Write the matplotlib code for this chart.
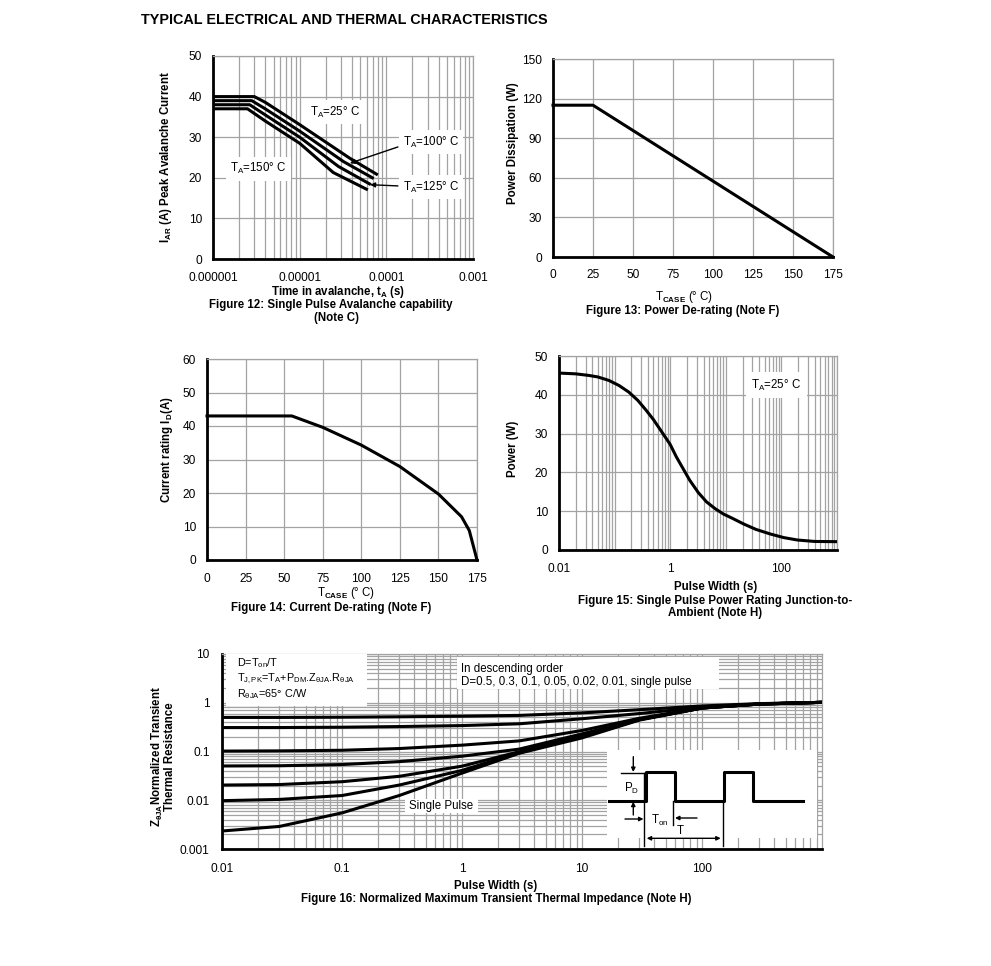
import matplotlib
matplotlib.use("Agg")
from matplotlib import pyplot as plt
from matplotlib.patches import Rectangle
from matplotlib.ticker import FixedLocator, FixedFormatter, NullFormatter
import numpy as np

plt.rcParams['font.family'] = ['Liberation Sans', 'DejaVu Sans']
plt.rcParams['mathtext.fontset'] = 'custom'
plt.rcParams['mathtext.rm'] = 'Liberation Sans'
plt.rcParams['mathtext.it'] = 'Liberation Sans:italic'
plt.rcParams['mathtext.bf'] = 'Liberation Sans:bold'

W, H = 991, 966

# ---- data ----
# Figure 12: single pulse avalanche capability
t_25 = [1e-6, 3.0e-6, 4e-6, 1e-5, 3.8e-5, 7.7e-5]
i_25 = [40, 40, 38.6, 33.1, 24.8, 20.9]
t_100 = [1e-6, 2.8e-6, 4e-6, 1e-5, 3.2e-5, 6.9e-5]
i_100 = [39, 39, 37.0, 31.5, 24.0, 20.0]
t_125 = [1e-6, 2.65e-6, 4e-6, 1e-5, 2.8e-5, 6.4e-5]
i_125 = [38, 38, 35.5, 30.0, 22.8, 18.5]
t_150 = [1e-6, 2.5e-6, 4e-6, 1e-5, 2.44e-5, 5.9e-5]
i_150 = [37, 37, 34.0, 28.5, 21.3, 17.2]

# Figure 13: power de-rating
tcase_13 = [0, 25, 175]
pdiss_13 = [115, 115, 0]

# Figure 14: current de-rating
tcase_14 = [0, 55, 75, 100, 125, 150, 165, 170, 175]
id_14 = [43, 43, 39.6, 34.3, 27.9, 19.7, 12.9, 8.8, 0]

# Figure 15: single pulse power rating
pw_15 = [0.01, 0.02, 0.034, 0.05, 0.079, 0.12, 0.18, 0.26, 0.37, 0.5, 0.74, 1.0,
         1.29, 1.7, 2.24, 3.2, 4.5, 6.5, 9.1, 13, 21, 35, 64, 110, 195, 400, 1000]
pwr_15 = [45.6, 45.4, 45.0, 44.6, 43.7, 42.4, 40.7, 38.6, 36.0, 33.6, 30.0, 27.2,
          24.0, 21.0, 18.0, 14.8, 12.4, 10.6, 9.26, 8.2, 6.7, 5.3, 4.1, 3.2, 2.57, 2.2, 2.15]

# Figure 16: normalized transient thermal impedance
pw_16 = [0.01, 0.03, 0.1, 0.3, 1, 3, 10, 30, 100, 300, 1000]
z_05 = [0.50, 0.50, 0.505, 0.515, 0.53, 0.55, 0.62, 0.72, 0.86, 0.96, 1.02]
z_03 = [0.31, 0.31, 0.315, 0.325, 0.34, 0.37, 0.47, 0.60, 0.81, 0.95, 1.02]
z_01 = [0.102, 0.103, 0.106, 0.115, 0.135, 0.165, 0.27, 0.48, 0.79, 0.94, 1.02]
z_005 = [0.0505, 0.051, 0.054, 0.062, 0.08, 0.112, 0.23, 0.46, 0.78, 0.94, 1.02]
z_002 = [0.0205, 0.021, 0.024, 0.031, 0.05, 0.099, 0.21, 0.45, 0.78, 0.94, 1.02]
z_001 = [0.0098, 0.0104, 0.0125, 0.0205, 0.041, 0.094, 0.20, 0.45, 0.78, 0.94, 1.02]
z_sp = [0.00234, 0.0029, 0.0055, 0.0125, 0.036, 0.092, 0.19, 0.44, 0.78, 0.94, 1.02]

GRID = '#a3a3a3'
TICK = 8.6
ANN = 8.3
LAB = 8.3


def fx(x):
    return x / W


def fy(y):
    return 1 - y / H


def add_ax(fig, l, t, r, b):
    return fig.add_axes([fx(l), fy(b), (r - l) / W, (b - t) / H])


def style(ax, xpad=9, ypad=8):
    ax.set_axisbelow(True)
    ax.grid(True, which='both', color=GRID, lw=0.9)
    for s in ['top', 'right']:
        ax.spines[s].set_color(GRID)
        ax.spines[s].set_linewidth(0.9)
    for s in ['left', 'bottom']:
        ax.spines[s].set_color('black')
        ax.spines[s].set_linewidth(2)
    ax.tick_params(which='both', length=0, labelsize=TICK)
    ax.tick_params(axis='x', pad=xpad)
    ax.tick_params(axis='y', pad=ypad)


def ftext(fig, x, y, s, **kw):
    kw.setdefault('ha', 'center')
    kw.setdefault('va', 'center')
    fig.text(fx(x), fy(y), s, **kw)


def box(fig, l, t, r, b):
    fig.patches.append(Rectangle((fx(l), fy(b)), (r - l) / W, (b - t) / H,
                                 transform=fig.transFigure, facecolor='white',
                                 edgecolor='none', zorder=2))


fig = plt.figure(figsize=(W / 100, H / 100), dpi=100)

ftext(fig, 141, 20, 'TYPICAL ELECTRICAL AND THERMAL CHARACTERISTICS',
      ha='left', fontsize=10.4, fontweight='bold')

# ---------------- Figure 12 ----------------
ax = add_ax(fig, 213, 56, 473, 259)
style(ax)
ax.set_xscale('log')
ax.set_xlim(1e-6, 1e-3)
ax.set_ylim(0, 50)
ax.xaxis.set_major_locator(FixedLocator([1e-6, 1e-5, 1e-4, 1e-3]))
ax.xaxis.set_major_formatter(FixedFormatter(['0.000001', '0.00001', '0.0001', '0.001']))
ax.xaxis.set_minor_formatter(NullFormatter())
ax.set_yticks([0, 10, 20, 30, 40, 50])
for t, i in [(t_25, i_25), (t_100, i_100), (t_125, i_125), (t_150, i_150)]:
    ax.plot(t, i, color='black', lw=2.2, zorder=4, solid_joinstyle='round')
lab_box = dict(facecolor='white', edgecolor='none', pad=3)
ax.text(1.3e-5, 36.2, r'T$_\mathrm{A}$=25° C', fontsize=ANN, ha='left', va='center',
        bbox=lab_box, zorder=3)
ax.text(1.55e-4, 28.8, r'T$_\mathrm{A}$=100° C', fontsize=ANN, ha='left', va='center',
        bbox=lab_box, zorder=3)
ax.text(1.55e-4, 17.7, r'T$_\mathrm{A}$=125° C', fontsize=ANN, ha='left', va='center',
        bbox=lab_box, zorder=3)
ax.text(1.57e-6, 22.2, r'T$_\mathrm{A}$=150° C', fontsize=ANN, ha='left', va='center',
        bbox=lab_box, zorder=3)
arr = dict(arrowstyle='-|>', color='black', lw=1, mutation_scale=7, shrinkA=0, shrinkB=0)
ax.annotate('', xy=(3.8e-5, 23.6), xytext=(1.36e-4, 27.6), arrowprops=arr, zorder=5)
ax.annotate('', xy=(6.5e-5, 18.3), xytext=(1.36e-4, 18.0), arrowprops=arr, zorder=5)
ftext(fig, 166, 157, r'I$_\mathbf{AR}$ (A) Peak Avalanche Current', rotation=90,
      fontsize=LAB, fontweight='bold')
ftext(fig, 338, 292, r'Time in avalanche, t$_\mathbf{A}$ (s)', fontsize=LAB, fontweight='bold')
ftext(fig, 331, 305, 'Figure 12: Single Pulse Avalanche capability', fontsize=LAB, fontweight='bold')
ftext(fig, 336, 318, '(Note C)', fontsize=LAB, fontweight='bold')

# ---------------- Figure 13 ----------------
ax = add_ax(fig, 553, 59, 833, 257)
style(ax)
ax.set_xlim(0, 175)
ax.set_ylim(0, 150)
ax.set_xticks(np.arange(0, 176, 25))
ax.set_yticks(np.arange(0, 151, 30))
ax.plot(tcase_13, pdiss_13, color='black', lw=2.2, zorder=4, clip_on=False)
ftext(fig, 513, 143, 'Power Dissipation (W)', rotation=90, fontsize=LAB, fontweight='bold')
ftext(fig, 684, 297, r'T$_\mathbf{CASE}$ (° C)', fontsize=LAB)
ftext(fig, 683, 311, 'Figure 13: Power De-rating (Note F)', fontsize=LAB, fontweight='bold')

# ---------------- Figure 14 ----------------
ax = add_ax(fig, 207, 359, 477, 560)
style(ax)
ax.set_xlim(0, 175)
ax.set_ylim(0, 60)
ax.set_xticks(np.arange(0, 176, 25))
ax.set_yticks(np.arange(0, 61, 10))
ax.plot(tcase_14, id_14, color='black', lw=2.2, zorder=4, clip_on=False)
ftext(fig, 167, 450, r'Current rating I$_\mathbf{D}$(A)', rotation=90, fontsize=LAB, fontweight='bold')
ftext(fig, 346, 593, r'T$_\mathbf{CASE}$ (° C)', fontsize=LAB)
ftext(fig, 331, 608, 'Figure 14: Current De-rating (Note F)', fontsize=LAB, fontweight='bold')

# ---------------- Figure 15 ----------------
ax = add_ax(fig, 559, 356, 837, 550)
style(ax)
ax.set_xscale('log')
ax.set_xlim(0.01, 1000)
ax.set_ylim(0, 50)
ax.xaxis.set_major_locator(FixedLocator([0.01, 1, 100]))
ax.xaxis.set_major_formatter(FixedFormatter(['0.01', '1', '100']))
ax.xaxis.set_minor_locator(FixedLocator([m * 10.0 ** e for e in range(-2, 3) for m in range(1, 10)] + [1000]))
ax.xaxis.set_minor_formatter(NullFormatter())
ax.set_yticks(np.arange(0, 51, 10))
ax.plot(pw_15, pwr_15, color='black', lw=2.2, zorder=4)
ax.text(0.782, 0.85, r'T$_\mathrm{A}$=25° C', transform=ax.transAxes, fontsize=ANN,
        ha='center', va='center', bbox=dict(facecolor='white', edgecolor='none', pad=4), zorder=3)
ftext(fig, 513, 449, 'Power (W)', rotation=90, fontsize=LAB, fontweight='bold')
ftext(fig, 716, 587, 'Pulse Width (s)', fontsize=LAB, fontweight='bold')
ftext(fig, 715, 601, 'Figure 15: Single Pulse Power Rating Junction-to-', fontsize=LAB, fontweight='bold')
ftext(fig, 715, 613, 'Ambient (Note H)', fontsize=LAB, fontweight='bold')

# ---------------- Figure 16 ----------------
ax = add_ax(fig, 222, 654, 822, 849)
style(ax, xpad=10, ypad=9)
ax.set_xscale('log')
ax.set_yscale('log')
ax.set_xlim(0.01, 1000)
ax.set_ylim(0.001, 10)
ax.xaxis.set_major_locator(FixedLocator([0.01, 0.1, 1, 10, 100]))
ax.xaxis.set_major_formatter(FixedFormatter(['0.01', '0.1', '1', '10', '100']))
ax.yaxis.set_major_locator(FixedLocator([0.001, 0.01, 0.1, 1, 10]))
ax.yaxis.set_major_formatter(FixedFormatter(['0.001', '0.01', '0.1', '1', '10']))
ax.xaxis.set_minor_formatter(NullFormatter())
ax.yaxis.set_minor_formatter(NullFormatter())
for z in [z_05, z_03, z_01, z_005, z_002, z_001, z_sp]:
    ax.plot(pw_16, z, color='black', lw=2.2, zorder=4)

BOXF = 7.8
box(fig, 226, 654, 367, 706)
ftext(fig, 237, 663, r'D=T$_\mathrm{on}$/T', fontsize=BOXF, ha='left', zorder=3)
ftext(fig, 237, 679, r'T$_\mathrm{J,PK}$=T$_\mathrm{A}$+P$_\mathrm{DM}$.Z$_{\mathrm{\theta JA}}$.R$_{\mathrm{\theta JA}}$',
      fontsize=BOXF, ha='left', zorder=3)
ftext(fig, 237, 694, r'R$_{\mathrm{\theta JA}}$=65° C/W', fontsize=BOXF, ha='left', zorder=3)
box(fig, 457, 657, 719, 689)
ftext(fig, 461, 669, 'In descending order', fontsize=ANN, ha='left', zorder=3)
ftext(fig, 461, 682, 'D=0.5, 0.3, 0.1, 0.05, 0.02, 0.01, single pulse', fontsize=ANN, ha='left', zorder=3)
box(fig, 405, 799, 478, 813)
ftext(fig, 441, 806, 'Single Pulse', fontsize=ANN, zorder=3)

# pulse train sketch (inset, pixel coordinates)
ins = add_ax(fig, 607, 750, 817, 848)
ins.set_xlim(607, 817)
ins.set_ylim(848, 750)
ins.axis('off')
ins.patch.set_alpha(0)
ins.add_patch(Rectangle((607, 750), 210, 88, facecolor='white', edgecolor='none'))
ins.plot([609, 646, 646, 675.5, 675.5, 724, 724, 753.5, 753.5, 803],
         [801, 801, 772, 772, 801, 801, 772, 772, 801, 801], color='black', lw=2.2)
thin = dict(color='black', lw=1)
ins.plot([644.3, 644.3], [773.3, 846], **thin)
ins.plot([620.7, 645], [773.3, 773.3], **thin)
ins.plot([673.3, 673.3], [801, 825], **thin)
ins.plot([722.7, 722.7], [801, 846], **thin)
a2 = dict(arrowstyle='-|>', color='black', lw=1, mutation_scale=6, shrinkA=0, shrinkB=0)
ins.annotate('', xy=(633.3, 772), xytext=(633.3, 756.7), arrowprops=a2)
ins.annotate('', xy=(633.3, 801.7), xytext=(633.3, 815), arrowprops=a2)
ins.annotate('', xy=(643.5, 819), xytext=(625, 819), arrowprops=a2)
ins.annotate('', xy=(675, 818), xytext=(697, 818), arrowprops=a2)
ins.annotate('', xy=(646.7, 838.3), xytext=(720.7, 838.3),
             arrowprops=dict(arrowstyle='<|-|>', color='black', lw=1, mutation_scale=6,
                             shrinkA=0, shrinkB=0))
ins.text(632, 788.5, r'P$_\mathrm{D}$', fontsize=ANN, ha='center', va='center')
ins.text(660, 820.5, r'T$_\mathrm{on}$', fontsize=ANN, ha='center', va='center')
ins.text(680, 831, 'T', fontsize=ANN, ha='center', va='center')

ftext(fig, 163, 757, 'Z$_{\\mathbf{\\theta JA}}$Normalized Transient\nThermal Resistance',
      rotation=90, fontsize=LAB, fontweight='bold', linespacing=0.95, multialignment='center')
ftext(fig, 496, 886, 'Pulse Width (s)', fontsize=LAB, fontweight='bold')
ftext(fig, 496, 899, 'Figure 16: Normalized Maximum Transient Thermal Impedance (Note H)',
      fontsize=LAB, fontweight='bold')

fig.savefig('out.png', dpi=100)
